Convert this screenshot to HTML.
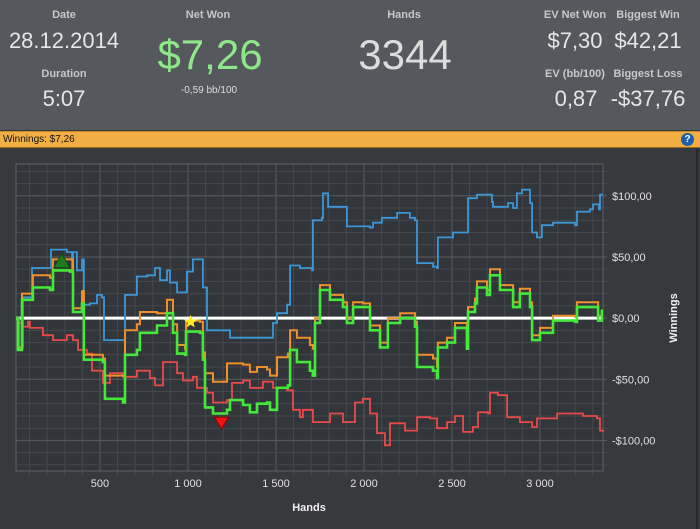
<!DOCTYPE html>
<html><head><meta charset="utf-8">
<style>
html,body{margin:0;padding:0;width:700px;height:529px;overflow:hidden;background:#37393d;font-family:"Liberation Sans",sans-serif;}
#header{position:absolute;left:0;top:0;width:700px;height:130px;background:#55585c;}
.lbl{position:absolute;color:#c8c8c8;font-size:11px;font-weight:bold;text-align:center;transform:translateX(-50%);white-space:nowrap;}
.val{position:absolute;color:#e6e6e6;font-size:22px;text-align:center;transform:translateX(-50%);white-space:nowrap;}
#bar{position:absolute;left:0;top:131px;width:700px;height:17px;background:#f1ae45;border-top:1px solid #c98a2a;border-bottom:1px solid #9a6a20;box-sizing:border-box;}
#bar span{position:absolute;left:3px;top:2px;font-size:10px;color:#111;}
#help{position:absolute;left:681px;top:133px;width:13px;height:13px;border-radius:50%;background:#1d5fa8;color:#fff;font-size:10px;font-weight:bold;text-align:center;line-height:13px;}
svg{position:absolute;left:0;top:149px;}
</style></head><body>
<div id="header">
 <div class="lbl" style="left:64px;top:9px">Date</div>
 <div class="val" style="left:64px;top:28px">28.12.2014</div>
 <div class="lbl" style="left:64px;top:68px">Duration</div>
 <div class="val" style="left:64px;top:86px">5:07</div>
 <div class="lbl" style="left:208px;top:9px">Net Won</div>
 <div class="val" style="left:210px;top:31px;font-size:42px;color:#8ee88a">$7,26</div>
 <div class="val" style="left:209px;top:85px;font-size:10px;color:#ddd">-0,59 bb/100</div>
 <div class="lbl" style="left:404px;top:9px">Hands</div>
 <div class="val" style="left:405px;top:31px;font-size:42px;color:#dcdcdc">3344</div>
 <div class="lbl" style="left:575px;top:9px">EV Net Won</div>
 <div class="val" style="left:575px;top:28px">$7,30</div>
 <div class="lbl" style="left:648px;top:9px">Biggest Win</div>
 <div class="val" style="left:648px;top:28px">$42,21</div>
 <div class="lbl" style="left:575px;top:68px">EV (bb/100)</div>
 <div class="val" style="left:576px;top:86px">0,87</div>
 <div class="lbl" style="left:648px;top:68px">Biggest Loss</div>
 <div class="val" style="left:648px;top:86px">-$37,76</div>
</div>
<div id="bar"><span>Winnings: $7,26</span></div>
<div id="help">?</div>
<svg id="chart" width="700" height="380" viewBox="0 149 700 380"></svg>
<script>
const greenHands=[23,34,57,119,216,233,330,347,398,409,517,528,631,642,710,727,824,881,915,938,983,989,1068,1085,1097,1142,1222,1239,1313,1352,1392,1449,1466,1506,1568,1580,1619,1693,1710,1722,1750,1807,1881,1903,1938,1994,2034,2091,2136,2205,2290,2301,2392,2415,2420,2472,2517,2585,2591,2631,2642,2699,2716,2773,2847,2886,2943,2955,3000,3074,3199,3210,3301,3330,3352];
const netWon=[0,-26,15,25,23,39,38,5,12,-34,-36,-66,-69,-30,-26,-12,-6,4,-12,-29,-30,-11,-12,-34,-73,-78,-75,-67,-71,-77,-70,-69,-75,-57,-55,-26,-36,-43,-47,-4,23,15,9,-4,9,9,-10,-24,-4,0,-7,-40,-43,-49,-24,-20,-8,-25,5,12,25,19,35,23,9,20,9,-18,-12,-2,-3,9,9,-2,7];
const evWon=[0,-24,20,35,33,48,48,8,22,-30,-33,-47,-47,-10,-5,5,4,15,-5,-22,-25,-2,-3,-28,-45,-52,-37,-37,-38,-44,-40,-42,-47,-32,-29,-10,-16,-22,-25,0,27,19,13,0,13,12,-6,-20,0,4,-3,-30,-33,-40,-20,-16,-4,-21,9,16,30,23,40,27,13,24,13,-14,-8,2,1,13,13,2,7];
const blueHands=[23,40,62,114,216,222,312,341,347,369,398,409,443,483,511,523,631,642,710,767,813,841,881,898,938,983,994,1028,1080,1085,1108,1239,1466,1483,1506,1563,1580,1636,1705,1710,1761,1767,1790,1796,1892,1903,2034,2051,2102,2188,2261,2290,2301,2392,2415,2420,2506,2585,2591,2642,2688,2727,2733,2813,2818,2847,2869,2898,2932,2943,2955,2983,3011,3074,3199,3210,3284,3301,3335,3341,3358];
const showdownWon=[0,-24,17,41,41,56,54,39,54,39,48,11,12,19,17,-18,-18,19,34,35,41,31,39,29,21,21,38,48,48,25,-10,-16,-16,-4,4,11,43,41,39,80,82,102,102,91,91,75,74,78,82,86,82,80,45,42,41,66,70,70,98,101,101,95,91,91,94,90,102,105,105,94,70,66,76,78,76,87,89,93,89,101,101];
const redHands=[23,34,62,91,102,176,233,312,347,375,426,455,517,557,631,710,784,813,858,938,972,1028,1051,1108,1142,1222,1250,1313,1352,1426,1483,1563,1597,1636,1653,1710,1807,1881,1949,1994,2034,2074,2119,2148,2205,2233,2301,2375,2415,2472,2517,2563,2619,2648,2705,2716,2761,2813,2886,2955,2983,3097,3244,3324,3341,3358];
const nonShowdownWon=[0,-4,-7,-3,-8,-14,-18,-14,-18,-26,-29,-43,-53,-45,-48,-43,-49,-55,-36,-45,-51,-48,-57,-61,-69,-67,-53,-51,-57,-52,-57,-59,-75,-81,-75,-85,-78,-85,-69,-66,-78,-94,-104,-86,-86,-92,-81,-82,-90,-85,-80,-93,-89,-77,-78,-61,-63,-81,-85,-89,-82,-78,-80,-82,-92,-93];
const xTicks=[500,1000,1500,2000,2500,3000];
const xTickLabels=["500","1 000","1 500","2 000","2 500","3 000"];
const yTicks=[100,50,0,-50,-100];
const yTickLabels=["$100,00","$50,00","$0,00","-$50,00","-$100,00"];
const markerWin=[283,47];
const markerStar=[1015,-3];
const markerLoss=[1190,-86];

const NS="http://www.w3.org/2000/svg";
const svg=document.getElementById('chart');
const L=16,R=603,T=164,B=471;
const X0=23,X1=3358,Y0=-125,Y1=126;
function sx(h){return L+(h-X0)/(X1-X0)*(R-L);}
function sy(v){return B-(v-Y0)/(Y1-Y0)*(B-T);}
function mk(tag,attrs){const e=document.createElementNS(NS,tag);for(const k in attrs)e.setAttribute(k,attrs[k]);svg.appendChild(e);return e;}
const bg=mk('rect',{x:L,y:T,width:R-L,height:B-T,fill:'#323539'});


for(let h=100;h<X1;h+=100){const isMaj=h%500===0;const l=mk('line',{x1:sx(h),x2:sx(h),y1:T,y2:B+(isMaj?0:6),stroke:isMaj?'#595c60':'#45484c','stroke-width':1});

}
for(let v=-120;v<=120;v+=10){const isMaj=v%50===0;const l=mk('line',{x1:L,x2:R+(isMaj?4:6),y1:sy(v),y2:sy(v),stroke:isMaj?'#595c60':'#45484c','stroke-width':1});

}
const frame=mk('rect',{x:L,y:T,width:R-L,height:B-T,fill:'none',stroke:'#5e6165','stroke-width':1});


xTicks.forEach((t,i)=>{const tx=mk('text',{x:sx(t),y:487,fill:'#e0e0e0','font-size':11,'text-anchor':'middle','font-family':'Liberation Sans, sans-serif'});tx.textContent=xTickLabels[i];

});
yTicks.forEach((t,i)=>{const tx=mk('text',{x:612,y:sy(t)+4,fill:'#e0e0e0','font-size':11,'font-family':'Liberation Sans, sans-serif'});tx.textContent=yTickLabels[i];

});
const xt=mk('text',{x:309,y:511,fill:'#f0f0f0','font-size':11,'font-weight':'bold','text-anchor':'middle','font-family':'Liberation Sans, sans-serif'});xt.textContent='Hands';


const yt=mk('text',{x:0,y:0,fill:'#f0f0f0','font-size':11,'font-weight':'bold','text-anchor':'middle','font-family':'Liberation Sans, sans-serif',transform:'translate(677,318) rotate(-90)'});yt.textContent='Winnings';


function stepPath(hs,vs){let d='M'+sx(hs[0]).toFixed(1)+','+sy(vs[0]).toFixed(1);for(let i=1;i<hs.length;i++){d+='L'+sx(hs[i]).toFixed(1)+','+sy(vs[i-1]).toFixed(1)+'L'+sx(hs[i]).toFixed(1)+','+sy(vs[i]).toFixed(1);}return d;}
const zl=mk('line',{x1:L,x2:R,y1:sy(0),y2:sy(0),stroke:'#ffffff','stroke-width':3});


const pr=mk('path',{d:stepPath(redHands,nonShowdownWon),fill:'none',stroke:'#e84a4a','stroke-width':1.8});


const pb=mk('path',{d:stepPath(blueHands,showdownWon),fill:'none',stroke:'#3a98d8','stroke-width':1.8});


const po=mk('path',{d:stepPath(greenHands,evWon),fill:'none',stroke:'#f0902a','stroke-width':2});


const pg=mk('path',{d:stepPath(greenHands,netWon),fill:'none',stroke:'#44e83a','stroke-width':2.6});


let cx=sx(markerWin[0]),cy=sy(markerWin[1]);
const m1=mk('polygon',{points:`${cx},${cy-7} ${cx-8},${cy+7} ${cx+8},${cy+7}`,fill:'#1f7a1f',stroke:'#0e4d0e'});


cx=sx(markerStar[0]);cy=sy(markerStar[1]);
let pts=[];for(let i=0;i<10;i++){const r=i%2?3:7;const a=-Math.PI/2+i*Math.PI/5;pts.push((cx+r*Math.cos(a)).toFixed(1)+','+(cy+r*Math.sin(a)).toFixed(1));}
const m2=mk('polygon',{points:pts.join(' '),fill:'#ffee22'});


cx=sx(markerLoss[0]);cy=sy(markerLoss[1]);
const m3=mk('polygon',{points:`${cx-7},${cy-6} ${cx+7},${cy-6} ${cx},${cy+6}`,fill:'#ee1111',stroke:'#8a0000'});


const edge=mk('line',{x1:697,x2:697,y1:149,y2:529,stroke:'#26282b','stroke-width':2});


</script>
</body></html>
